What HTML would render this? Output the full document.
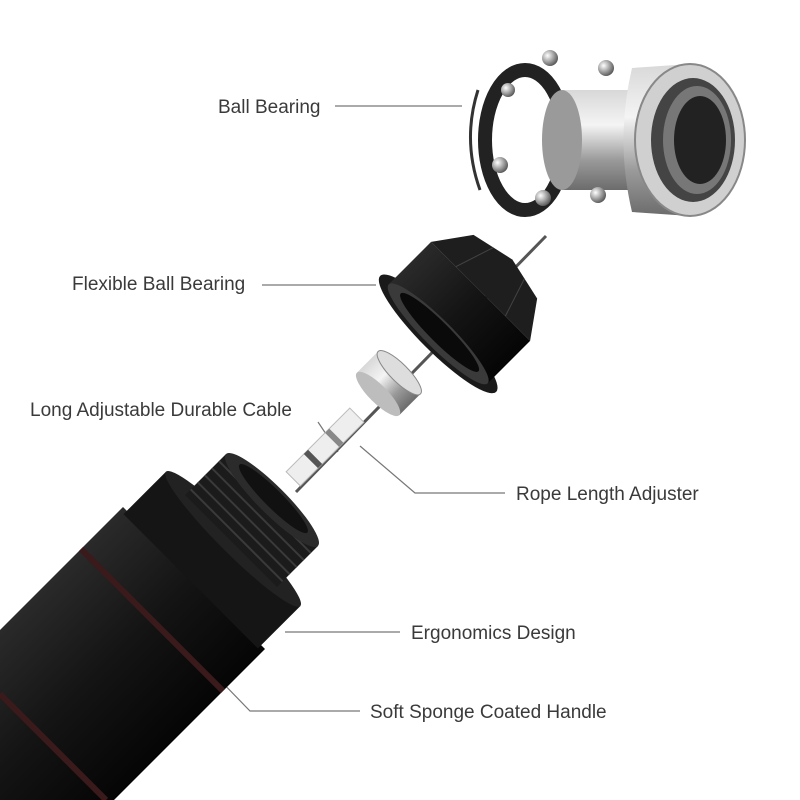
<!DOCTYPE html>
<html><head><meta charset="utf-8"><style>
html,body{margin:0;padding:0;background:#fff;width:800px;height:800px;overflow:hidden;}
svg{display:block;overflow:hidden}
text{font-family:"Liberation Sans",sans-serif;font-size:19px;fill:#3a3a3a;}
</style></head><body>
<svg width="800" height="800" viewBox="0 0 800 800">
<defs>
<linearGradient id="sil" x1="0" y1="0" x2="0" y2="1">
<stop offset="0" stop-color="#d8d8d8"/><stop offset="0.35" stop-color="#f4f4f4"/><stop offset="0.7" stop-color="#9a9a9a"/><stop offset="1" stop-color="#6c6c6c"/></linearGradient>
<radialGradient id="ball" cx="0.35" cy="0.35" r="0.7"><stop offset="0" stop-color="#fff"/><stop offset="0.5" stop-color="#aaa"/><stop offset="1" stop-color="#555"/></radialGradient>
<linearGradient id="blk" x1="0" y1="0" x2="0" y2="1"><stop offset="0" stop-color="#2a2a2a"/><stop offset="0.5" stop-color="#141414"/><stop offset="1" stop-color="#050505"/></linearGradient>
<linearGradient id="blkg" gradientUnits="userSpaceOnUse" x1="123" y1="507" x2="265" y2="649"><stop offset="0" stop-color="#2a2a2a"/><stop offset="0.5" stop-color="#141414"/><stop offset="1" stop-color="#050505"/></linearGradient>
</defs>

<g stroke="#777" stroke-width="1.2" fill="none">
<line x1="335" y1="106" x2="462" y2="106"/>
<line x1="262" y1="285" x2="376" y2="285"/>
<polyline points="318,422 338,452"/>
<polyline points="505,493 415,493 360,446"/>
<line x1="285" y1="632" x2="400" y2="632"/>
<polyline points="360,711 250,711 216,676"/>
</g>

<text x="218" y="113">Ball Bearing</text>
<text x="72" y="290">Flexible Ball Bearing</text>
<text x="30" y="416">Long Adjustable Durable Cable</text>
<text x="516" y="500">Rope Length Adjuster</text>
<text x="411" y="639">Ergonomics Design</text>
<text x="370" y="718">Soft Sponge Coated Handle</text>

<line x1="296" y1="492" x2="546" y2="236" stroke="#555" stroke-width="3"/>

<!-- handle body in absolute coords -->
<polygon points="123,507 265,649 114,800 0,800 0,630" fill="url(#blkg)"/>
<line x1="81" y1="549" x2="223" y2="691" stroke="#3a1a1a" stroke-width="6"/>
<line x1="0" y1="694" x2="106" y2="800" stroke="#3a1a1a" stroke-width="6"/>

<g transform="translate(272,500) rotate(-45)">
  <rect x="-115" y="-95" width="60" height="190" fill="#151515"/>
  <ellipse cx="-55" cy="0" rx="14" ry="95" fill="#222"/>
  <rect x="-58" y="-65" width="58" height="130" fill="#1b1b1b"/>
  <g stroke="#3a3a3a" stroke-width="2">
    <line x1="-50" y1="-65" x2="-50" y2="65"/><line x1="-40" y1="-65" x2="-40" y2="65"/>
    <line x1="-30" y1="-65" x2="-30" y2="65"/><line x1="-20" y1="-65" x2="-20" y2="65"/>
    <line x1="-10" y1="-65" x2="-10" y2="65"/>
  </g>
  <ellipse cx="0" cy="0" rx="14" ry="65" fill="#2b2b2b"/>
  <ellipse cx="2" cy="0" rx="9" ry="48" fill="#111"/>
  <rect x="30" y="-10" width="90" height="20" fill="#eee" stroke="#bbb"/>
  <rect x="55" y="-10" width="6" height="20" fill="#555"/>
  <rect x="85" y="-10" width="6" height="20" fill="#888"/>
  <rect x="150" y="-30" width="30" height="60" fill="url(#sil)"/>
  <ellipse cx="180" cy="0" rx="9" ry="30" fill="#ddd" stroke="#888"/>
  <ellipse cx="150" cy="0" rx="9" ry="30" fill="#bdbdbd"/>
  <ellipse cx="235" cy="0" rx="18" ry="82" fill="#1a1a1a"/>
  <rect x="235" y="-70" width="60" height="140" fill="url(#blk)"/>
  <path d="M295,-70 L330,-45 L340,0 L330,45 L295,70 Z" fill="#1e1e1e"/>
  <line x1="295" y1="-35" x2="335" y2="-22" stroke="#444"/>
  <line x1="295" y1="35" x2="335" y2="22" stroke="#444"/>
  <ellipse cx="235" cy="0" rx="14" ry="70" fill="#3a3a3a"/>
  <ellipse cx="237" cy="0" rx="10" ry="55" fill="#0a0a0a"/>
</g>

<g>
  <ellipse cx="525" cy="140" rx="40" ry="70" fill="none" stroke="#222" stroke-width="14"/>
  <rect x="562" y="90" width="70" height="100" fill="url(#sil)"/>
  <ellipse cx="562" cy="140" rx="20" ry="50" fill="#9a9a9a"/>
  <path d="M632,68 L690,64 L690,216 L632,212 Q615,140 632,68 Z" fill="url(#sil)"/>
  <ellipse cx="690" cy="140" rx="55" ry="76" fill="#d0d0d0" stroke="#888" stroke-width="2"/>
  <ellipse cx="693" cy="140" rx="42" ry="62" fill="#444"/>
  <ellipse cx="697" cy="140" rx="34" ry="54" fill="#777"/>
  <ellipse cx="700" cy="140" rx="26" ry="44" fill="#222"/>
  <path d="M478,90 Q462,140 480,190" stroke="#333" stroke-width="3" fill="none"/>
  <circle cx="550" cy="58" r="8" fill="url(#ball)"/>
  <circle cx="606" cy="68" r="8" fill="url(#ball)"/>
  <circle cx="508" cy="90" r="7" fill="url(#ball)"/>
  <circle cx="500" cy="165" r="8" fill="url(#ball)"/>
  <circle cx="543" cy="198" r="8" fill="url(#ball)"/>
  <circle cx="598" cy="195" r="8" fill="url(#ball)"/>
</g>
</svg>
</body></html>
